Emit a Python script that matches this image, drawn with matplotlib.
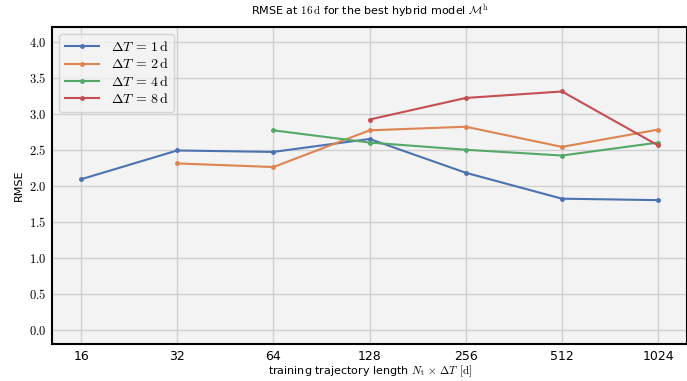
import matplotlib
matplotlib.use('Agg')
from matplotlib import pyplot as plt

# data
lengths = [16, 32, 64, 128, 256, 512, 1024]
rmse_dt1 = [2.09, 2.49, 2.47, 2.65, 2.18, 1.82, 1.80]
rmse_dt2 = [2.31, 2.26, 2.77, 2.82, 2.54, 2.78]
rmse_dt4 = [2.77, 2.60, 2.50, 2.42, 2.60]
rmse_dt8 = [2.92, 3.22, 3.31, 2.56]
labels = [r'$\Delta T \,=\, 1\,\mathrm{d}$', r'$\Delta T \,=\, 2\,\mathrm{d}$',
          r'$\Delta T \,=\, 4\,\mathrm{d}$', r'$\Delta T \,=\, 8\,\mathrm{d}$']
y_ticks = [0.0, 0.5, 1.0, 1.5, 2.0, 2.5, 3.0, 3.5, 4.0]

plt.rcParams['mathtext.fontset'] = 'cm'
colors = ['#4c72b0', '#dd8452', '#55a868', '#c44e52']

fig = plt.figure(figsize=(6.87, 3.81), dpi=100)
ax = fig.add_axes([0.076, 0.097, 0.924, 0.831])
ax.set_facecolor('#f3f3f3')

series = [rmse_dt1, rmse_dt2, rmse_dt4, rmse_dt8]
for vals, lab, c in zip(series, labels, colors):
    xs = lengths[len(lengths) - len(vals):]
    ax.plot(xs, vals, c=c, lw=1.5, marker='o', ms=2.5, label=lab)

ax.set_xscale('log', base=2)
ax.set_xlim(16 * 2 ** -0.3, 1024 * 2 ** 0.3)
ax.set_xticks(lengths)
ax.set_xticklabels([str(v) for v in lengths])
ax.minorticks_off()
ax.set_ylim(-0.2, 4.2)
ax.set_yticks(y_ticks)
ax.set_yticklabels([r'$%.1f$' % v for v in y_ticks])
ax.tick_params(axis='both', length=0, labelsize=9, pad=4)
ax.grid(True, color='#d0d0d0', lw=1.0)
ax.set_axisbelow(True)
for s in ax.spines.values():
    s.set_color('black')
    s.set_linewidth(1.5)

ax.set_title(r'RMSE at $16\,\mathrm{d}$ for the best hybrid model $\mathcal{M}^\mathrm{h}$',
             fontsize=8, pad=9)
ax.set_xlabel(r'training trajectory length $N_\mathrm{t}\,\times\,\Delta T$ $[\mathrm{d}]$',
              fontsize=8, labelpad=1)
ax.set_ylabel('RMSE', fontsize=8)

leg = ax.legend(loc='upper left', fontsize=10, frameon=True, handlelength=2.5,
                borderpad=0.4, labelspacing=0.25, fancybox=True)
leg.get_frame().set_facecolor('#f3f3f3')
leg.get_frame().set_edgecolor('#cccccc')

fig.savefig('out.png', dpi=100)
